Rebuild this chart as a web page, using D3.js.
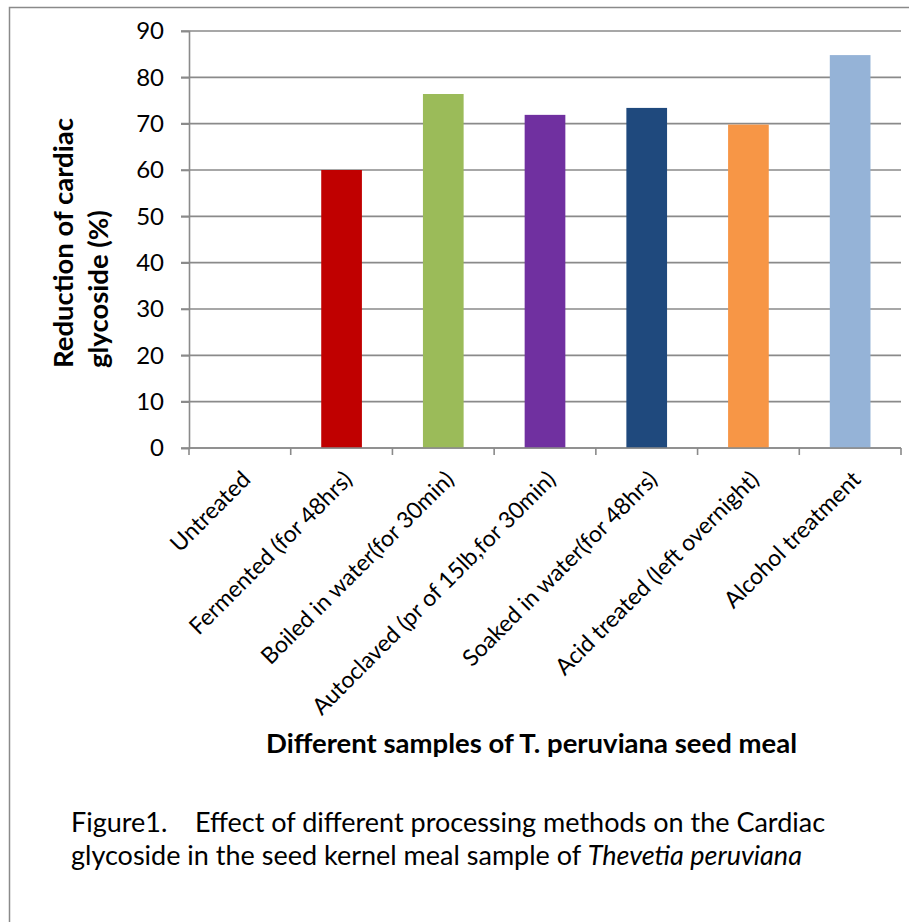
<!DOCTYPE html>
<html>
<head>
<meta charset="utf-8">
<script src="https://cdn.jsdelivr.net/npm/d3@7"></script>
<style>
  body { margin: 0; background: #fff; }
  text { font-family: Lato, "Open Sans", sans-serif; fill: #000; }
</style>
</head>
<body>
<div id="chart"></div>
<script>
// data
const samples = [
  "Untreated",
  "Fermented (for 48hrs)",
  "Boiled in water(for 30min)",
  "Autoclaved (pr of 15lb,for 30min)",
  "Soaked in water(for 48hrs)",
  "Acid treated (left overnight)",
  "Alcohol treatment",
];
const reduction = [0, 60, 76.4, 71.9, 73.4, 69.8, 84.8];
const barColors = ["#C00000", "#C00000", "#9BBB59", "#7030A0", "#1F497D", "#F79646", "#95B3D7"];
const yTicks = [0, 10, 20, 30, 40, 50, 60, 70, 80, 90];
const yTitleLines = ["Reduction of cardiac", "glycoside (%)"];
const xTitle = "Different samples of T. peruviana seed meal";

const WIDTH = 909;
const HEIGHT = 922;
const PLOT = { LEFT: 189, RIGHT: 901, TOP: 31, BOTTOM: 448 };
const GRID_COLOR = "#8a8a8a";

const svg = d3.select("#chart")
  .append("svg")
  .attr("width", WIDTH)
  .attr("height", HEIGHT);

svg.append("rect").attr("width", WIDTH).attr("height", HEIGHT).attr("fill", "#fff");

// page frame (top and left edge of the figure box)
svg.append("path")
  .attr("d", `M9.5,${HEIGHT} V7.5 H${WIDTH}`)
  .attr("fill", "none")
  .attr("stroke", GRID_COLOR)
  .attr("stroke-width", 1.5);

const x = d3.scaleBand(samples, [PLOT.LEFT, PLOT.RIGHT]);
const xBar = d3.scaleBand(samples, [PLOT.LEFT, PLOT.RIGHT])
  .paddingInner(0.6)
  .paddingOuter(0.3);
const y = d3.scaleLinear([0, 90], [PLOT.BOTTOM, PLOT.TOP]);

// gridlines
svg.append("g")
  .selectAll("line")
  .data(yTicks)
  .join("line")
  .attr("x1", PLOT.LEFT - 8)
  .attr("x2", PLOT.RIGHT)
  .attr("y1", (d) => y(d))
  .attr("y2", (d) => y(d))
  .attr("stroke", GRID_COLOR)
  .attr("stroke-width", 1.6);

// y axis
const yAxis = svg.append("g")
  .attr("transform", `translate(${PLOT.LEFT}, 0)`)
  .call(d3.axisLeft(y).tickValues(yTicks).tickSize(8).tickPadding(17));
yAxis.select(".domain").attr("stroke", GRID_COLOR).attr("stroke-width", 1.6);
yAxis.selectAll(".tick line").attr("stroke", GRID_COLOR).attr("stroke-width", 1.6);
yAxis.selectAll("text")
  .style("font-family", "Lato, sans-serif")
  .style("font-size", "24px")
  .attr("fill", "#000");

// bars
svg.append("g")
  .selectAll("rect")
  .data(samples)
  .join("rect")
  .attr("x", (d) => xBar(d))
  .attr("width", xBar.bandwidth())
  .attr("y", (d, i) => y(reduction[i]))
  .attr("height", (d, i) => y(0) - y(reduction[i]))
  .attr("fill", (d, i) => barColors[i]);

// x axis with ticks at band edges
const xEdges = samples.map((d) => x(d)).concat([PLOT.RIGHT]);
const xAxis = svg.append("g");
xAxis.append("line")
  .attr("x1", PLOT.LEFT)
  .attr("x2", PLOT.RIGHT)
  .attr("y1", y(0))
  .attr("y2", y(0))
  .attr("stroke", GRID_COLOR)
  .attr("stroke-width", 1.6);
xAxis.selectAll(".edge")
  .data(xEdges)
  .join("line")
  .attr("class", "edge")
  .attr("x1", (d) => d)
  .attr("x2", (d) => d)
  .attr("y1", y(0))
  .attr("y2", y(0) + 7)
  .attr("stroke", GRID_COLOR)
  .attr("stroke-width", 1.6);

// rotated category labels
xAxis.selectAll(".cat")
  .data(samples)
  .join("text")
  .attr("class", "cat")
  .attr("transform", (d) => `translate(${x(d) + x.bandwidth() / 2 + 12}, ${y(0) + 33}) rotate(-45)`)
  .attr("text-anchor", "end")
  .style("font-size", "23px")
  .text((d) => d);

// y title, two lines rotated
svg.append("text")
  .attr("transform", "translate(73, 368) rotate(-90)")
  .style("font-size", "27.5px")
  .style("font-weight", "bold")
  .selectAll("tspan")
  .data(yTitleLines)
  .join("tspan")
  .attr("x", 0)
  .attr("y", (d, i) => i * 35)
  .text((d) => d);

// x title
svg.append("text")
  .attr("x", 266)
  .attr("y", 753)
  .style("font-size", "27.5px")
  .style("font-weight", "bold")
  .text(xTitle);

// figure caption
const caption = svg.append("text")
  .attr("x", 71)
  .style("font-size", "27px");
caption.append("tspan")
  .attr("x", 71)
  .attr("y", 832)
  .text("Figure1.\u00a0\u00a0\u00a0\u00a0Effect of different processing methods on the Cardiac");
const line2 = caption.append("tspan").attr("x", 71).attr("y", 865);
line2.append("tspan").text("glycoside in the seed kernel meal sample of ");
line2.append("tspan").style("font-style", "italic").text("Thevetia peruviana");
</script>
</body>
</html>
